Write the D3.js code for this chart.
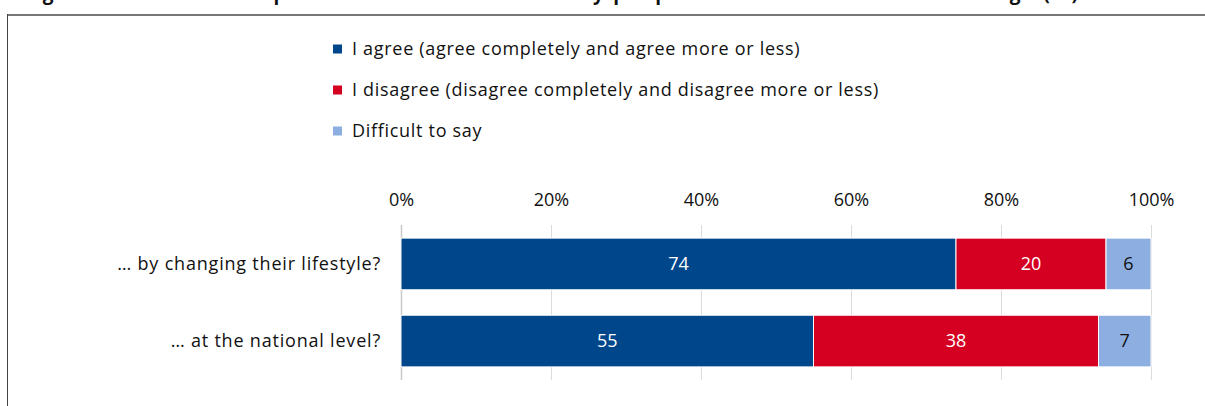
<!DOCTYPE html>
<html lang="en">
<head>
    <meta charset="UTF-8">
    <title>Stacked bar chart</title>
    <script src="https://d3js.org/d3.v7.min.js"></script>
    <style>
        body { margin: 0; background: #fff; }
        svg { display: block; font-family: "Open Sans", sans-serif; }
    </style>
</head>
<body>
    <div id="chart"></div>
    <script>
        // Data
        const categories = ["… by changing their lifestyle?", "… at the national level?"];
        const seriesNames = [
            "I agree (agree completely and agree more or less)",
            "I disagree (disagree completely and disagree more or less)",
            "Difficult to say"
        ];
        const agree = [74, 55];
        const disagree = [20, 38];
        const difficult = [6, 7];
        const ticks = [0, 20, 40, 60, 80, 100];
        const colors = ["#00468b", "#d50021", "#8caee0"];
        const labelColors = ["#fff", "#fff", "#111"];

        const width = 1205, height = 406;
        const margin = {top: 225, left: 401, right: 54, bottom: 26};
        const fs = 18;

        const svg = d3.select("#chart").append("svg")
            .attr("width", width)
            .attr("height", height);

        // Title (cut off at top of the picture)
        svg.append("text")
            .attr("x", 22)
            .attr("y", 0)
            .attr("font-weight", "bold")
            .attr("font-size", 19)
            .attr("fill", "#111")
            .attr("textLength", 1056)
            .attr("lengthAdjust", "spacing")
            .text("Figure 21. Russians' opinions on whether ordinary people can influence climate change (%)");

        // Frame
        svg.append("line").attr("x1", 7).attr("x2", width).attr("y1", 15).attr("y2", 15)
            .attr("stroke", "#777").attr("stroke-width", 2);
        svg.append("line").attr("x1", 7.5).attr("x2", 7.5).attr("y1", 14).attr("y2", height)
            .attr("stroke", "#444").attr("stroke-width", 1);

        const x = d3.scaleLinear()
            .domain([0, 100])
            .range([margin.left, width - margin.right]);

        const y = d3.scaleBand()
            .domain(categories)
            .range([margin.top, height - margin.bottom])
            .paddingInner(0.33)
            .paddingOuter(0.17);

        // Gridlines
        svg.append("g")
            .selectAll("line")
            .data(ticks)
            .join("line")
            .attr("x1", d => x(d) + 0.5)
            .attr("x2", d => x(d) + 0.5)
            .attr("y1", margin.top)
            .attr("y2", height - margin.bottom)
            .attr("stroke", d => d === 0 ? "#c8c8c8" : "#dcdcdc")
            .attr("stroke-width", d => d === 0 ? 1.5 : 1);

        // Top axis labels
        const axis = svg.append("g")
            .attr("transform", `translate(0,${margin.top - 19})`)
            .call(d3.axisTop(x).tickValues(ticks).tickFormat(d => d + "%").tickSize(0).tickPadding(0));
        axis.select(".domain").remove();
        axis.selectAll("text")
            .attr("font-family", "Open Sans, sans-serif")
            .attr("font-size", fs)
            .attr("fill", "#111");

        // Stacked bars
        const table = categories.map((c, i) => ({cat: c, values: [agree[i], disagree[i], difficult[i]]}));
        const stack = d3.stack().keys([0, 1, 2]).value((d, k) => d.values[k]);
        const layers = stack(table);

        const layerG = svg.append("g")
            .selectAll("g")
            .data(layers)
            .join("g");

        layerG.selectAll("rect")
            .data((layer, k) => layer.map(d => ({d, k})))
            .join("rect")
            .attr("x", p => x(p.d[0]))
            .attr("y", p => y(p.d.data.cat))
            .attr("width", p => x(p.d[1]) - x(p.d[0]))
            .attr("height", y.bandwidth())
            .attr("fill", p => colors[p.k])
            .attr("stroke", "#fff")
            .attr("stroke-width", 1);

        layerG.selectAll("text")
            .data((layer, k) => layer.map(d => ({d, k})))
            .join("text")
            .attr("x", p => (x(p.d[0]) + x(p.d[1])) / 2)
            .attr("y", p => y(p.d.data.cat) + y.bandwidth() / 2)
            .attr("dy", "0.35em")
            .attr("text-anchor", "middle")
            .attr("font-size", fs)
            .attr("fill", p => labelColors[p.k])
            .text(p => p.d[1] - p.d[0]);

        // Category labels
        svg.append("g")
            .selectAll("text")
            .data(categories)
            .join("text")
            .attr("x", margin.left - 20)
            .attr("y", d => y(d) + y.bandwidth() / 2)
            .attr("dy", "0.35em")
            .attr("text-anchor", "end")
            .attr("font-size", fs)
            .attr("letter-spacing", 0.8)
            .attr("fill", "#111")
            .text(d => d);

        // Legend
        const legend = svg.append("g")
            .selectAll("g")
            .data(seriesNames)
            .join("g")
            .attr("transform", (d, i) => `translate(333,${49 + i * 41})`);
        legend.append("rect")
            .attr("x", 0).attr("y", -4.5)
            .attr("width", 9).attr("height", 9)
            .attr("fill", (d, i) => colors[i]);
        legend.append("text")
            .attr("x", 19)
            .attr("dy", "0.35em")
            .attr("font-size", fs)
            .attr("letter-spacing", 0.7)
            .attr("fill", "#111")
            .text(d => d);
    </script>
</body>
</html>
